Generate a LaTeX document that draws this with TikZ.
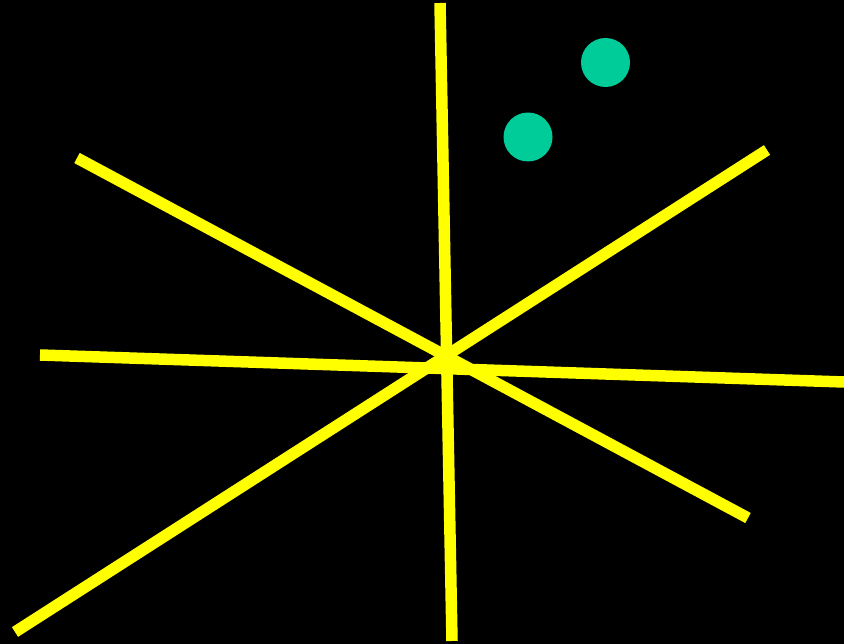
\documentclass[tikz,border=0pt]{standalone}
\definecolor{ray}{RGB}{255,255,0}
\definecolor{dot}{RGB}{0,204,153}
\begin{document}
\begin{tikzpicture}[x=1pt,y=-1pt,
  rayline/.style={draw=ray,line width=11.5pt},
  dotnode/.style={circle,fill=dot,inner sep=0pt,minimum size=49pt}]
\fill[black] (0,0) rectangle (844,644);
\useasboundingbox (0,0) rectangle (844,644);
\coordinate (a1) at (440,3);   \coordinate (a2) at (452,641);
\coordinate (b1) at (77,158);  \coordinate (b2) at (748,518);
\coordinate (c1) at (40,355);  \coordinate (c2) at (844,382);
\coordinate (d1) at (15,632);  \coordinate (d2) at (767,150);
\draw[rayline] (a1) -- (a2);
\draw[rayline] (b1) -- (b2);
\draw[rayline] (c1) -- (c2);
\draw[rayline] (d1) -- (d2);
\node[dotnode] (p1) at (605.5,62.5) {};
\node[dotnode] (p2) at (528,137) {};
\end{tikzpicture}
\end{document}
